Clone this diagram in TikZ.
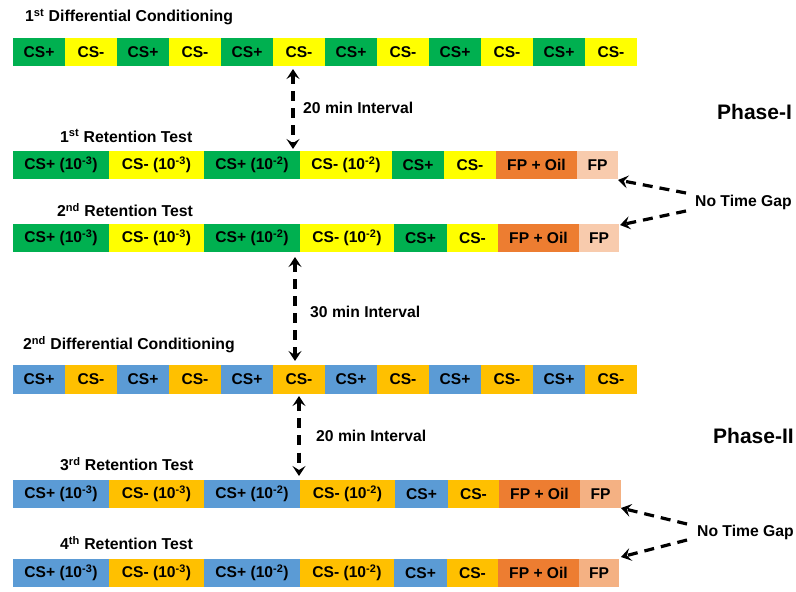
\documentclass[tikz,border=0pt]{standalone}
\usepackage{fontspec}
\setmainfont{Liberation Sans}
\usetikzlibrary{arrows.meta,calc}
\definecolor{grn}{HTML}{00B050}
\definecolor{yel}{HTML}{FFFF00}
\definecolor{org}{HTML}{ED7D31}
\definecolor{pch}{HTML}{F8CBAD}
\definecolor{pchb}{HTML}{F4B183}
\definecolor{blu}{HTML}{5B9BD5}
\definecolor{gld}{HTML}{FFC000}
\tikzset{
  cell/.style={anchor=west, inner sep=0pt, outer sep=0pt, minimum height=28.5pt,
    font=\bfseries\fontsize{15.6}{15.6}\selectfont, text=black},
  ttl/.style={anchor=west, inner sep=0pt, font=\bfseries\fontsize{15.8}{16}\selectfont},
  lbl/.style={anchor=west, inner sep=0pt, font=\bfseries\fontsize{15.7}{16}\selectfont},
  phase/.style={anchor=west, inner sep=0pt, font=\bfseries\fontsize{21}{21}\selectfont},
  darr/.style={line width=3.2pt, dash pattern=on 10pt off 7pt,
    {Stealth[length=10pt,width=13pt,inset=4pt]}-{Stealth[length=10pt,width=13pt,inset=4pt]}},
  sarr/.style={line width=3.2pt, dash pattern=on 10pt off 7pt,
    -{Stealth[length=10pt,width=13pt,inset=4pt]}}
}
\newcommand{\sps}[1]{\textsuperscript{#1}}
\begin{document}
\begin{tikzpicture}[x=1pt,y=-1pt]
\useasboundingbox[fill=white] (0,0) rectangle (796,592);

% ---------- Phase I ----------
\node[ttl] (t1) at (25,17) {1\sps{st} Differential Conditioning};
\foreach \i in {1,...,12}{
  \pgfmathtruncatemacro{\odd}{mod(\i,2)}
  \ifnum\odd=1
    \node[cell, fill=grn, minimum width=52pt] (r1c\i) at ({13+52*(\i-1)},52) {CS+};
  \else
    \node[cell, fill=yel, minimum width=52pt] (r1c\i) at ({13+52*(\i-1)},52) {CS-};
  \fi
}

\node[ttl] (t2) at (60,136) {1\sps{st} Retention Test};
\foreach \x/\w/\c/\t [count=\i] in {
  13/96/grn/{CS+ (10\sps{-3})},
  109/95/yel/{CS- (10\sps{-3})},
  204/96/grn/{CS+ (10\sps{-2})},
  300/92/yel/{CS- (10\sps{-2})},
  392/52/grn/{CS+},
  444/52/yel/{CS-},
  496/81/org/{FP + Oil},
  577/41/pch/{FP}}
  \node[cell, fill=\c, minimum width=\w pt] (r2c\i) at (\x,165) {\t};

\node[ttl] (t3) at (57,210) {2\sps{nd} Retention Test};
\foreach \x/\w/\c/\t [count=\i] in {
  13/96/grn/{CS+ (10\sps{-3})},
  109/95/yel/{CS- (10\sps{-3})},
  204/96/grn/{CS+ (10\sps{-2})},
  300/94/yel/{CS- (10\sps{-2})},
  394/53/grn/{CS+},
  447/51/yel/{CS-},
  498/81/org/{FP + Oil},
  579/40/pch/{FP}}
  \node[cell, fill=\c, minimum width=\w pt] (r3c\i) at (\x,238) {\t};

\node[phase] (ph1) at (717,112) {Phase-I};
\node[lbl] (ntg1) at (695,202) {No Time Gap};

\coordinate (a1s) at (293,69);
\coordinate (a1e) at (293,149);
\draw[darr] (a1s) -- (a1e);
\node[lbl] (l1) at (303,108) {20 min Interval};

\coordinate (g1s) at (686,193);
\coordinate (g1e) at (618,180);
\coordinate (g2s) at (686,211);
\coordinate (g2e) at (620,225);
\draw[sarr] (g1s) -- (g1e);
\draw[sarr] (g2s) -- (g2e);

% ---------- between phases ----------
\coordinate (a2s) at (295,257);
\coordinate (a2e) at (295,361);
\draw[darr] (a2s) -- (a2e);
\node[lbl] (l2) at (310,312) {30 min Interval};

% ---------- Phase II ----------
\node[ttl] (t4) at (23,345) {2\sps{nd} Differential Conditioning};
\foreach \i in {1,...,12}{
  \pgfmathtruncatemacro{\odd}{mod(\i,2)}
  \ifnum\odd=1
    \node[cell, fill=blu, minimum width=52pt] (r4c\i) at ({13+52*(\i-1)},379.5) {CS+};
  \else
    \node[cell, fill=gld, minimum width=52pt] (r4c\i) at ({13+52*(\i-1)},379.5) {CS-};
  \fi
}

\coordinate (a3s) at (299,396);
\coordinate (a3e) at (299,476);
\draw[darr] (a3s) -- (a3e);
\node[lbl] (l3) at (316,436) {20 min Interval};

\node[phase] (ph2) at (713,436) {Phase-II};

\node[ttl] (t5) at (60,464) {3\sps{rd} Retention Test};
\foreach \x/\w/\c/\t [count=\i] in {
  13/96/blu/{CS+ (10\sps{-3})},
  109/95/gld/{CS- (10\sps{-3})},
  204/96/blu/{CS+ (10\sps{-2})},
  300/95/gld/{CS- (10\sps{-2})},
  395/53/blu/{CS+},
  448/51/gld/{CS-},
  499/81/org/{FP + Oil},
  580/41/pchb/{FP}}
  \node[cell, fill=\c, minimum width=\w pt] (r5c\i) at (\x,494) {\t};

\node[ttl] (t6) at (60,543) {4\sps{th} Retention Test};
\foreach \x/\w/\c/\t [count=\i] in {
  13/96/blu/{CS+ (10\sps{-3})},
  109/95/gld/{CS- (10\sps{-3})},
  204/96/blu/{CS+ (10\sps{-2})},
  300/94/gld/{CS- (10\sps{-2})},
  394/53/blu/{CS+},
  447/51/gld/{CS-},
  498/81/org/{FP + Oil},
  579/40/pchb/{FP}}
  \node[cell, fill=\c, minimum width=\w pt] (r6c\i) at (\x,573) {\t};

\node[lbl] (ntg2) at (697,532) {No Time Gap};
\coordinate (g3s) at (687,524);
\coordinate (g3e) at (621,508);
\coordinate (g4s) at (687,540);
\coordinate (g4e) at (621,557);
\draw[sarr] (g3s) -- (g3e);
\draw[sarr] (g4s) -- (g4e);
\end{tikzpicture}
\end{document}
